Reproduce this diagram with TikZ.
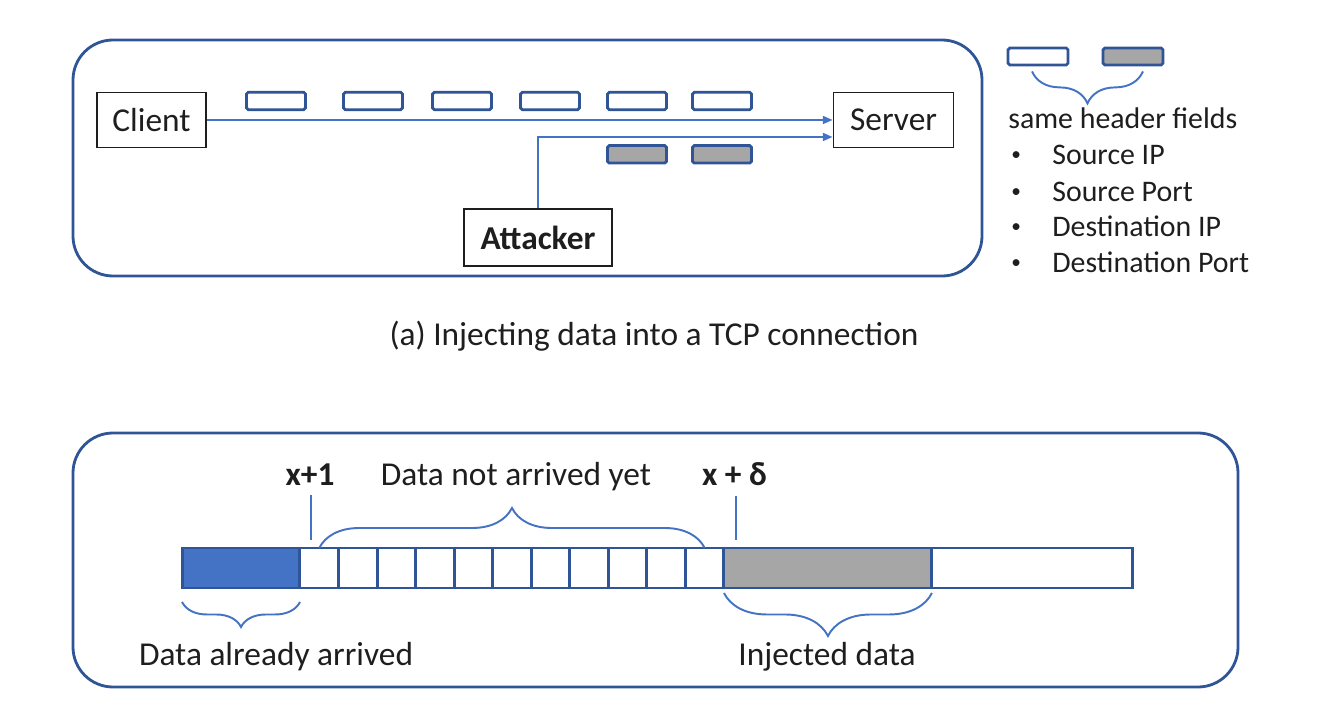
\documentclass[tikz,border=0pt]{standalone}
\usepackage{fontspec}
\setmainfont{Carlito}
\usepackage{tikz}
\usepackage{xcolor}
\usetikzlibrary{positioning, arrows.meta, decorations.pathreplacing}

\definecolor{frameblue}{RGB}{47,85,151}
\definecolor{lineblue}{RGB}{68,114,196}
\definecolor{pktgray}{RGB}{166,166,166}
\definecolor{txt}{RGB}{30,30,30}

\begin{document}
\begin{tikzpicture}[x=0.02cm, y=-0.02cm, node distance={0.771cm}, text=txt,
        font=\fontsize{19}{23}\selectfont,
        frame/.style = {draw=frameblue, line width=1.6pt, rounded corners=0.8cm},
        host/.style = {draw=txt, line width=1.1pt, minimum height=1.1cm, inner sep=0pt},
        pkt/.style = {draw=frameblue, line width=1.6pt, fill=white, rounded corners=1pt, minimum width=1.18cm, minimum height=0.35cm, inner sep=0pt},
        cell/.style = {draw=frameblue, line width=1.7pt, minimum width=0.771cm, minimum height=0.8cm, inner sep=0pt, outer sep=0pt},
        flow/.style = {draw=lineblue, line width=1.1pt, -{Triangle[length=5.5pt, width=4.5pt]}},
        brc/.style = {draw=lineblue, line width=1.1pt, decorate, decoration={brace, aspect=0.5, amplitude=#1}},
        tick/.style = {draw=lineblue, line width=1.1pt},
        lbl/.style = {anchor=base, inner sep=0pt},
        bold/.style = {font=\fontsize{19}{23}\selectfont\bfseries},
        item/.style = {anchor=base west, inner sep=0pt, font=\fontsize{17}{20}\selectfont},
        dot/.style = {anchor=base west, inner sep=0pt, font=\fontsize{11}{13}\selectfont}]
        \useasboundingbox (0,0) rectangle (1325,712);

        % (a) client, server, attacker
        \draw[frame] (73,40) rectangle (982,276);
        \node[host, minimum width=2.18cm] (client) at (151.5,120) {Client};
        \node[host, minimum width=2.4cm] (server) at (893.5,120) {Server};
        \node[host, bold, minimum width=2.96cm, minimum height=1.14cm] (attacker) at (538,237.5) {Attacker};

        \node[pkt] (p1) at (276,101) {};
        \node[pkt] (p2) at (373,101) {};
        \node[pkt] (p3) at (462,101) {};
        \node[pkt] (p4) at (550,101) {};
        \node[pkt] (p5) at (637,101) {};
        \node[pkt] (p6) at (722,101) {};
        \node[pkt, fill=pktgray] (g1) [below=0.66cm of p5] {};
        \node[pkt, fill=pktgray] (g2) [below=0.66cm of p6] {};

        \draw[flow] (client) -- (server);
        \draw[flow] (attacker.north) |- ([yshift=-0.34cm]server.west);

        % legend
        \node[pkt, minimum width=1.2cm, minimum height=0.34cm] (lw) at (1038,56.5) {};
        \node[pkt, minimum width=1.2cm, minimum height=0.34cm, fill=pktgray] (lg) at (1133,56.5) {};
        \draw[brc=0.64cm] ([xshift=0.2cm, yshift=-0.1cm]lg.south) -- ([xshift=-0.12cm, yshift=-0.1cm]lw.south);
        \node[item] (same) at (1008,129) {same header fields};
        \node[dot] (b1) at (1011,161) {\textbullet};
        \node[dot] (b2) at (1011,198) {\textbullet};
        \node[dot] (b3) at (1011,233) {\textbullet};
        \node[dot] (b4) at (1011,269) {\textbullet};
        \node[item] (f1) at (1052,165) {Source IP};
        \node[item] (f2) at (1052,202) {Source Port};
        \node[item] (f3) at (1052,237) {Destination IP};
        \node[item] (f4) at (1052,273) {Destination Port};

        \node[lbl] (caption) at (654,346) {(a) Injecting data into a TCP connection};

        % (b) receive buffer
        \draw[frame] (73,433) rectangle (1238,687);
        \node[cell, minimum width=2.36cm, fill=lineblue] (arrived) at (241,568) {};
        \node[cell, right=0pt of arrived] (c1) {};
        \node[cell] (c2) [right of=c1] {};
        \node[cell] (c3) [right of=c2] {};
        \node[cell] (c4) [right of=c3] {};
        \node[cell] (c5) [right of=c4] {};
        \node[cell] (c6) [right of=c5] {};
        \node[cell] (c7) [right of=c6] {};
        \node[cell] (c8) [right of=c7] {};
        \node[cell] (c9) [right of=c8] {};
        \node[cell] (c10) [right of=c9] {};
        \node[cell] (c11) [right of=c10] {};
        \node[cell, minimum width=4.16cm, fill=pktgray, right=0pt of c11] (injected) {};
        \node[cell, minimum width=4.02cm, right=0pt of injected] (rest) {};

        \node[lbl, bold] (xone) at (310,486) {x+1};
        \node[lbl] (notyet) at (516,486) {Data not arrived yet};
        \node[lbl, bold] (xdelta) at (734.5,486) {x + δ};
        \coordinate (t1) at (311,548);
        \coordinate (t2) at (736,548);
        \draw[tick] ([yshift=-0.18cm]xone.south -| t1) -- ([yshift=0.16cm]t1);
        \draw[tick] ([yshift=-0.18cm]xdelta.south -| t2) -- ([yshift=0.16cm]t2);

        \draw[brc=0.8cm] (c1.north) -- (c11.north);
        \draw[brc=0.5cm] ([yshift=-0.28cm]arrived.south east) -- ([yshift=-0.28cm]arrived.south west);
        \draw[brc=0.86cm] ([yshift=-0.1cm]injected.south east) -- ([yshift=-0.1cm]injected.south west);
        \node[lbl] (already) at (276,665) {Data already arrived};
        \node[lbl] (injlbl) at (827,665) {Injected data};
    \end{tikzpicture}
\end{document}
